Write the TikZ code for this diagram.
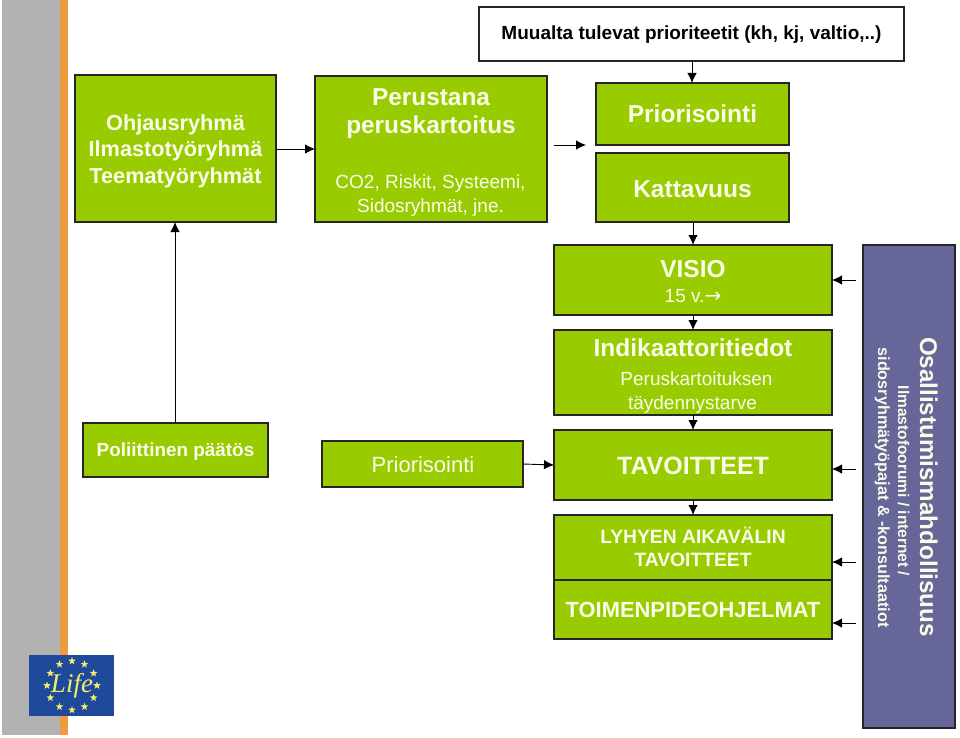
\documentclass[tikz,border=0pt]{standalone}
\usepackage{fontspec}
\setmainfont{Liberation Sans}
\newfontfamily\arrowfont{DejaVu Sans}
\newfontfamily\lifefont{Liberation Serif}
\usetikzlibrary{arrows.meta,shapes.geometric,calc}
\definecolor{leaf}{HTML}{99CC00}
\definecolor{plum}{HTML}{666699}
\definecolor{paletext}{HTML}{F8FCE8}
\definecolor{lifeblue}{HTML}{1F4A9C}
\definecolor{lifeyellow}{HTML}{F2EC6A}
\definecolor{sidegrey}{HTML}{B2B2B2}
\definecolor{sideorange}{HTML}{F09A40}
\newcommand{\fs}[1]{\fontsize{#1}{#1}\selectfont}
\tikzset{
  x=1pt,y=-1pt,
  box/.style={draw=black!85,line width=1.2pt,fill=leaf,inner sep=0,outer sep=0},
  lab/.style={inner sep=0,text=paletext,align=center,anchor=base},
  arr/.style={draw=black,line width=0.9pt,-{Latex[length=10pt,width=9.5pt]}},
  sidetext/.style={inner sep=0,text=paletext,rotate=-90,anchor=base},
  euro/.style={star,star points=5,star point ratio=2.4,fill=lifeyellow,inner sep=0,minimum size=8pt}
}
% name, x0, y0, x1, y1, extra style
\newcommand{\bx}[6]{%
  \pgfmathsetmacro{\bw}{#4-#2}\pgfmathsetmacro{\bh}{#5-#3}%
  \node[box,#6,minimum width=\bw pt,minimum height=\bh pt] (#1) at ({(#2+#4)/2},{(#3+#5)/2}) {};}
\begin{document}
\begin{tikzpicture}
\useasboundingbox (0,0) rectangle (960,738);
\fill[white] (0,0) rectangle (960,738);
\fill[sidegrey] (2,0) rectangle (60,735);
\fill[sideorange] (60,0) rectangle (67.5,735);
% boxes
\bx{top}{479}{7}{904}{61}{fill=white}
\bx{ohj}{75}{75}{276}{222}{}
\bx{per}{315}{76}{547}{222}{}
\bx{pri}{596}{83}{789}{145}{}
\bx{kat}{596}{153}{789}{222}{}
\bx{vis}{554}{245}{832}{315}{}
\bx{ind}{554}{330}{832}{415}{}
\bx{tav}{554}{430}{832}{500}{}
\bx{lyh}{554}{515}{832}{580}{}
\bx{toi}{554}{580}{832}{639}{}
\bx{pol}{83}{423}{268}{477}{}
\bx{prb}{322}{441}{523}{487}{}
\bx{osa}{863}{245}{955}{728}{fill=plum}
% labels
\node[inner sep=0,anchor=base,font=\bfseries\fs{19}] (t0) at (691.5,39.5) {Muualta tulevat prioriteetit (kh, kj, valtio,..)};
\node[lab,font=\bfseries\fs{21.7}] (t1) at (175.5,131) {Ohjausryhmä};
\node[lab,font=\bfseries\fs{21.7}] (t2) at (175.5,157) {Ilmastotyöryhmä};
\node[lab,font=\bfseries\fs{21.7}] (t3) at (175.5,183) {Teematyöryhmät};
\node[lab,font=\bfseries\fs{24.4}] (t4) at (431,106) {Perustana};
\node[lab,font=\bfseries\fs{24.4}] (t5) at (431,134) {peruskartoitus};
\node[lab,font=\fs{19}] (t6) at (430.5,189) {CO2, Riskit, Systeemi,};
\node[lab,font=\fs{19}] (t7) at (430.5,212.5) {Sidosryhmät, jne.};
\node[lab,font=\bfseries\fs{24.5}] (t8) at (692.5,123) {Priorisointi};
\node[lab,font=\bfseries\fs{24.5}] (t9) at (692.5,197) {Kattavuus};
\node[lab,font=\bfseries\fs{24.5}] (t10) at (693,277) {VISIO};
\node[lab,font=\fs{19}] (t11) at (693,302) {15 v.{\arrowfont\fs{20}→}};
\node[lab,font=\bfseries\fs{24.5}] (t12) at (693,356) {Indikaattoritiedot};
\node[lab,font=\fs{19}] (t13) at (696.5,385) {Peruskartoituksen};
\node[lab,font=\fs{19}] (t14) at (692.5,409) {täydennystarve};
\node[lab,font=\bfseries\fs{25}] (t15) at (693,474) {TAVOITTEET};
\node[lab,font=\bfseries\fs{19.3}] (t16) at (693,543) {LYHYEN AIKAVÄLIN};
\node[lab,font=\bfseries\fs{19.3}] (t17) at (693,566) {TAVOITTEET};
\node[lab,font=\bfseries\fs{21.9}] (t18) at (693,617.5) {TOIMENPIDEOHJELMAT};
\node[lab,font=\bfseries\fs{18.9}] (t19) at (175.5,456.5) {Poliittinen päätös};
\node[lab,font=\fs{22}] (t20) at (423,472) {Priorisointi};
\node[sidetext,font=\bfseries\fs{24.2}] (t21) at (920,487) {Osallistumismahdollisuus};
\node[sidetext,font=\bfseries\fs{15.5}] (t22) at (898,481) {Ilmastofoorumi / internet /};
\node[sidetext,font=\bfseries\fs{16.2}] (t23) at (878,487.5) {sidosryhmätyöpajat \& -konsultaatiot};
% free ends
\coordinate (fa) at (554,145);
\coordinate (fb) at (586,145);
\coordinate (o1) at (856,280);
\coordinate (o2) at (856,469);
\coordinate (o3) at (856,562);
\coordinate (o4) at (856,623);
\coordinate (c1) at (692,0);
\coordinate (c2) at (693,0);
\coordinate (c3) at (175,0);
\coordinate (r1) at (0,149);
\coordinate (r2) at (0,464);
\coordinate (r3) at (0,465);
% connectors
\draw[arr] (ohj.east |- r1) -- (per.west |- r1);
\draw[arr] (fa) -- (fb);
\draw[arr] (top.south -| c1) -- (pri.north -| c1);
\draw[arr] (kat.south -| c2) -- (vis.north -| c2);
\draw[arr] (vis.south -| c2) -- (ind.north -| c2);
\draw[arr] (ind.south -| c2) -- (tav.north -| c2);
\draw[arr] (tav.south -| c2) -- (lyh.north -| c2);
\draw[arr] (pol.north -| c3) -- (ohj.south -| c3);
\draw[arr] (prb.east |- r2) -- (tav.west |- r3);
\draw[arr] (o1) -- (vis.east |- o1);
\draw[arr] (o2) -- (tav.east |- o2);
\draw[arr] (o3) -- (lyh.east |- o3);
\draw[arr] (o4) -- (toi.east |- o4);
% logo
\fill[lifeblue] (29,655) rectangle (114,716);
\foreach \a in {0,30,...,330}{\node[euro] (s\a) at ($(72,685.5)+(\a:25 and 24.5)$) {};}
\node[inner sep=0,text=lifeyellow,font=\lifefont\itshape\fs{27}] (lf) at (72,686) {Life};
\end{tikzpicture}
\end{document}
